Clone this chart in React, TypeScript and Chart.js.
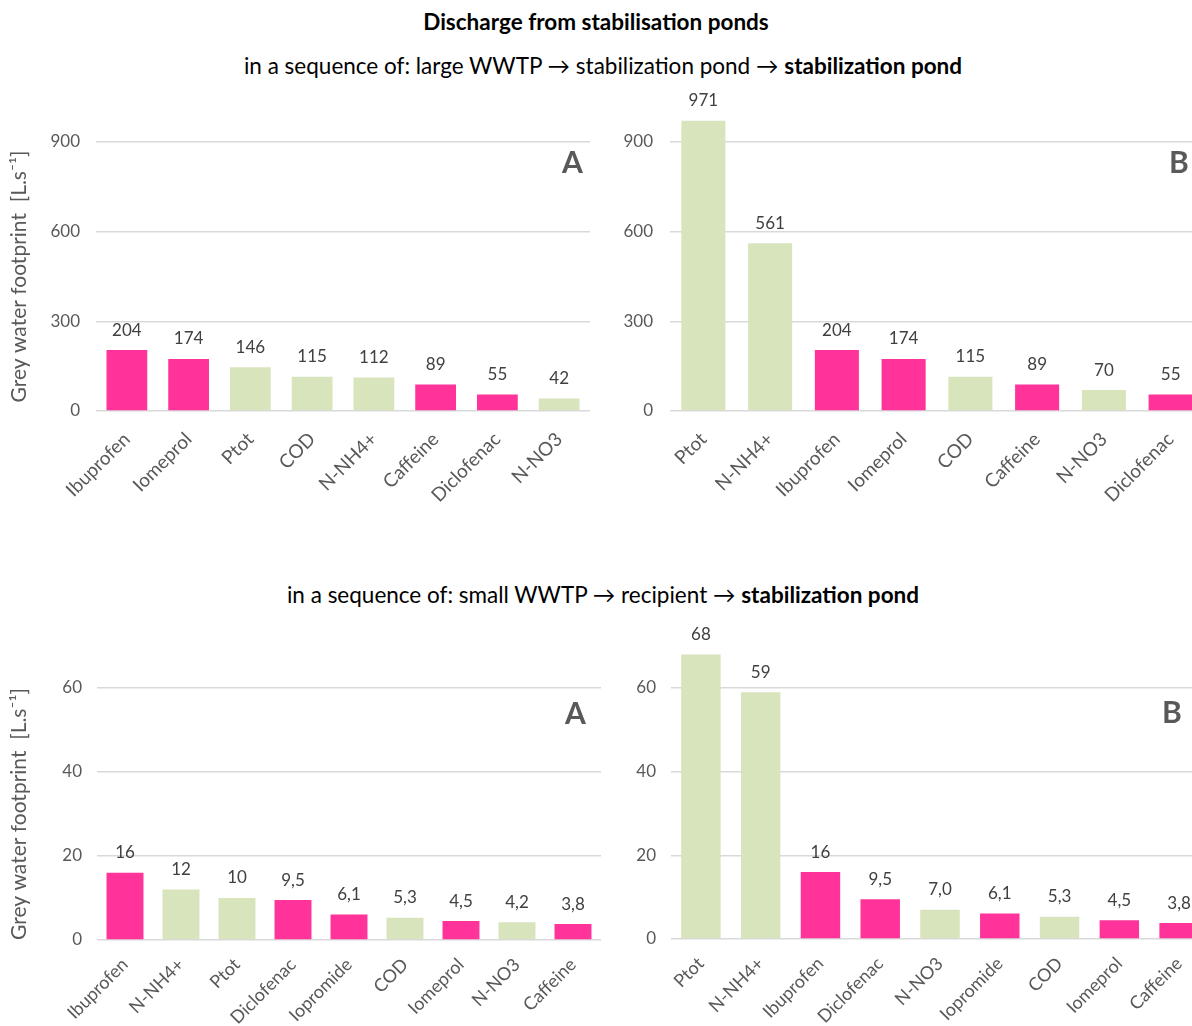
import React, { useEffect, useRef } from "react";
import { Chart, registerables } from "chart.js";

Chart.register(...registerables);

// ---- data ----
const pharmaceuticals = ["Ibuprofen", "Iomeprol", "Caffeine", "Diclofenac", "Iopromide"];

const topALabels = ["Ibuprofen", "Iomeprol", "Ptot", "COD", "N-NH4+", "Caffeine", "Diclofenac", "N-NO3"];
const topAValues = [204, 174, 146, 115, 112, 89, 55, 42];

const topBLabels = ["Ptot", "N-NH4+", "Ibuprofen", "Iomeprol", "COD", "Caffeine", "N-NO3", "Diclofenac"];
const topBValues = [971, 561, 204, 174, 115, 89, 70, 55];

const botALabels = ["Ibuprofen", "N-NH4+", "Ptot", "Diclofenac", "Iopromide", "COD", "Iomeprol", "N-NO3", "Caffeine"];
const botAValues = [16, 12, 10, 9.5, 6.1, 5.3, 4.5, 4.2, 3.8];

const botBLabels = ["Ptot", "N-NH4+", "Ibuprofen", "Diclofenac", "N-NO3", "Iopromide", "COD", "Iomeprol", "Caffeine"];
const botBValues = [68, 59, 16, 9.5, 7.0, 6.1, 5.3, 4.5, 3.8];

const topTicks = { max: 900, step: 300 };
const botTicks = { max: 60, step: 20 };

const PINK = "#FF3399";
const GREEN = "#D8E4BC";
const FONT = "Lato, 'Open Sans', sans-serif";

function fmt(v: number): string {
  if (v >= 10) return String(Math.round(v));
  return v.toFixed(1).replace(".", ",");
}

const valueLabelPlugin = {
  id: "valueLabels",
  afterDatasetsDraw(chart: any) {
    const ctx = chart.ctx;
    const meta = chart.getDatasetMeta(0);
    const data = chart.data.datasets[0].data as number[];
    ctx.save();
    ctx.font = `17px ${FONT}`;
    ctx.fillStyle = "#404040";
    ctx.textAlign = "center";
    ctx.textBaseline = "middle";
    meta.data.forEach((bar: any, i: number) => {
      ctx.fillText(fmt(data[i]), bar.x, bar.y - 20);
    });
    ctx.restore();
  },
};

type PanelProps = {
  labels: string[];
  values: number[];
  max: number;
  step: number;
  left: number;
  top: number;
  width: number;
  height: number;
  padTop: number;
  padRight: number;
  yWidth: number;
  xHeight: number;
  tickPad: number;
  xFont: number;
  xPad: number;
  showTitle: boolean;
};

function Panel(p: PanelProps) {
  const ref = useRef<HTMLCanvasElement | null>(null);
  useEffect(() => {
    if (!ref.current) return;
    const chart = new Chart(ref.current, {
      type: "bar",
      data: {
        labels: p.labels,
        datasets: [
          {
            data: p.values,
            backgroundColor: p.labels.map((l) => (pharmaceuticals.includes(l) ? PINK : GREEN)),
            categoryPercentage: 1,
            barPercentage: 0.66,
            clip: false as any,
          },
        ],
      },
      options: {
        animation: false,
        responsive: false,
        maintainAspectRatio: false,
        devicePixelRatio: 1,
        layout: { padding: { top: p.padTop, right: p.padRight, left: 0, bottom: 0 } },
        plugins: { legend: { display: false }, tooltip: { enabled: false } },
        scales: {
          x: {
            grid: { display: false },
            border: { display: false },
            ticks: {
              color: "#595959",
              font: { family: FONT, size: p.xFont },
              minRotation: 45,
              maxRotation: 45,
              padding: p.xPad,
              autoSkip: false,
            },
            afterFit: (s: any) => {
              s.height = p.xHeight;
            },
          },
          y: {
            min: 0,
            max: p.max,
            grid: { color: "#D9D9D9", lineWidth: 1.5, drawTicks: false },
            border: { display: false },
            ticks: {
              stepSize: p.step,
              color: "#595959",
              font: { family: FONT, size: 17 },
              padding: p.tickPad,
            },
            title: {
              display: p.showTitle,
              text: "Grey water footprint  [L.s⁻¹]",
              color: "#595959",
              font: { family: FONT, size: 21 },
              padding: { top: 7, bottom: 0 },
            },
            afterFit: (s: any) => {
              s.width = p.yWidth;
            },
          },
        },
      },
      plugins: [valueLabelPlugin],
    });
    return () => chart.destroy();
  }, []);
  return (
    <canvas
      ref={ref}
      width={p.width}
      height={p.height}
      style={{ position: "absolute", left: p.left, top: p.top, width: p.width, height: p.height }}
    />
  );
}

const letterStyle: React.CSSProperties = {
  position: "absolute",
  fontFamily: FONT,
  fontWeight: 700,
  fontSize: 30,
  color: "#595959",
  lineHeight: "1",
};

const textStyle: React.CSSProperties = {
  position: "absolute",
  left: 0,
  width: 1192,
  textAlign: "center",
  fontFamily: FONT,
  color: "#000",
  whiteSpace: "nowrap",
  lineHeight: "27px",
};

export default function App() {
  return (
    <div
      style={{
        position: "absolute",
        left: 0,
        top: 0,
        width: 1192,
        height: 1026,
        overflow: "hidden",
        background: "#fff",
      }}
    >
      <div style={{ ...textStyle, top: 8, fontSize: 22.5, fontWeight: 700 }}>Discharge from stabilisation ponds</div>
      <div style={{ ...textStyle, left: 7, top: 52, fontSize: 22.5 }}>
        in a sequence of: large WWTP → stabilization pond → <b>stabilization pond</b>
      </div>
      <div style={{ ...textStyle, left: 7, top: 581, fontSize: 22.5 }}>
        in a sequence of: small WWTP → recipient → <b>stabilization pond</b>
      </div>

      <Panel
        labels={topALabels}
        values={topAValues}
        max={topTicks.max}
        step={topTicks.step}
        left={0}
        top={90}
        width={600}
        height={440}
        padTop={52}
        padRight={10}
        yWidth={96}
        xHeight={119}
        tickPad={16}
        xFont={19}
        xPad={9}
        showTitle={true}
      />
      <Panel
        labels={topBLabels}
        values={topBValues}
        max={topTicks.max}
        step={topTicks.step}
        left={600}
        top={90}
        width={640}
        height={440}
        padTop={52}
        padRight={36}
        yWidth={70}
        xHeight={119}
        tickPad={17}
        xFont={19}
        xPad={9}
        showTitle={false}
      />
      <Panel
        labels={botALabels}
        values={botAValues}
        max={botTicks.max}
        step={botTicks.step}
        left={0}
        top={620}
        width={610}
        height={406}
        padTop={68}
        padRight={9}
        yWidth={97}
        xHeight={86}
        tickPad={15}
        xFont={18}
        xPad={6}
        showTitle={true}
      />
      <Panel
        labels={botBLabels}
        values={botBValues}
        max={botTicks.max}
        step={botTicks.step}
        left={600}
        top={620}
        width={650}
        height={406}
        padTop={68}
        padRight={41}
        yWidth={71}
        xHeight={87}
        tickPad={15}
        xFont={18}
        xPad={6}
        showTitle={false}
      />

      <div style={{ ...letterStyle, left: 562, top: 146 }}>A</div>
      <div style={{ ...letterStyle, left: 1169, top: 146 }}>B</div>
      <div style={{ ...letterStyle, left: 565, top: 697 }}>A</div>
      <div style={{ ...letterStyle, left: 1162, top: 696 }}>B</div>
    </div>
  );
}
